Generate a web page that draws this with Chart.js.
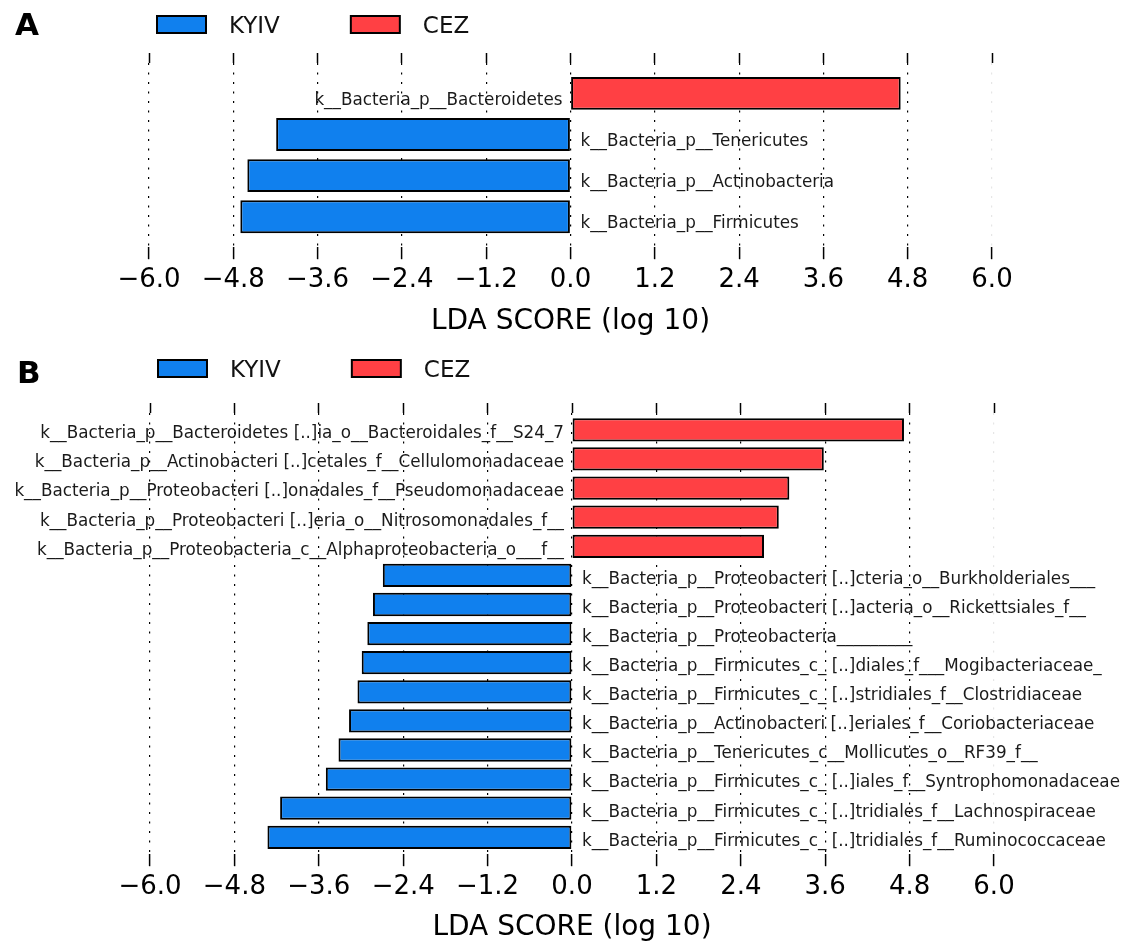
<!DOCTYPE html>
<html>
<head>
<meta charset="utf-8">
<title>LDA scores KYIV vs CEZ</title>
<script src="https://cdn.jsdelivr.net/npm/chart.js@4.4.1/dist/chart.umd.min.js"></script>
<style>
  body { margin: 0; background: #fff; }
  #wrap { position: relative; width: 1122px; height: 945px; }
  canvas { position: absolute; left: 0; }
  #chartA { top: 0; }
  #chartB { top: 340px; }
</style>
</head>
<body>
<div id="wrap">
  <canvas id="chartA" width="1122" height="340"></canvas>
  <canvas id="chartB" width="1122" height="605"></canvas>
</div>
<script>
// groups and shared axis
const groupNames = ['KYIV', 'CEZ'];
const groupColors = ['#1080ee', '#ff4044'];
const xTicks = [-6.0, -4.8, -3.6, -2.4, -1.2, 0.0, 1.2, 2.4, 3.6, 4.8, 6.0];

// panel A - phylum level
const taxaA = [
  'k__Bacteria_p__Bacteroidetes',
  'k__Bacteria_p__Tenericutes',
  'k__Bacteria_p__Actinobacteria',
  'k__Bacteria_p__Firmicutes'
];
const groupA = ['CEZ', 'KYIV', 'KYIV', 'KYIV'];
const ldaA = [4.70, 4.19, 4.60, 4.70];

// panel B - lower ranks
const taxaB = [
  'k__Bacteria_p__Bacteroidetes [..]ia_o__Bacteroidales_f__S24_7',
  'k__Bacteria_p__Actinobacteri [..]cetales_f__Cellulomonadaceae',
  'k__Bacteria_p__Proteobacteri [..]onadales_f__Pseudomonadaceae',
  'k__Bacteria_p__Proteobacteri [..]eria_o__Nitrosomonadales_f__',
  'k__Bacteria_p__Proteobacteria_c__Alphaproteobacteria_o___f__',
  'k__Bacteria_p__Proteobacteri [..]cteria_o__Burkholderiales___',
  'k__Bacteria_p__Proteobacteri [..]acteria_o__Rickettsiales_f__',
  'k__Bacteria_p__Proteobacteria_________',
  'k__Bacteria_p__Firmicutes_c_ [..]diales_f___Mogibacteriaceae_',
  'k__Bacteria_p__Firmicutes_c_ [..]stridiales_f__Clostridiaceae',
  'k__Bacteria_p__Actinobacteri [..]eriales_f__Coriobacteriaceae',
  'k__Bacteria_p__Tenericutes_c__Mollicutes_o__RF39_f__',
  'k__Bacteria_p__Firmicutes_c_ [..]iales_f__Syntrophomonadaceae',
  'k__Bacteria_p__Firmicutes_c_ [..]tridiales_f__Lachnospiraceae',
  'k__Bacteria_p__Firmicutes_c_ [..]tridiales_f__Ruminococcaceae'
];
const groupB = ['CEZ', 'CEZ', 'CEZ', 'CEZ', 'CEZ',
  'KYIV', 'KYIV', 'KYIV', 'KYIV', 'KYIV', 'KYIV', 'KYIV', 'KYIV', 'KYIV', 'KYIV'];
const ldaB = [4.72, 3.58, 3.09, 2.94, 2.73,
  2.69, 2.83, 2.91, 2.99, 3.05, 3.17, 3.32, 3.50, 4.15, 4.33];

Chart.defaults.font.family = '"DejaVu Sans", sans-serif';
Chart.defaults.color = '#000';

// KYIV bars point left, CEZ bars point right
function buildDatasets(taxa, groups, lda) {
  return groupNames.map((g, k) => ({
    label: g,
    backgroundColor: groupColors[k],
    borderColor: '#000',
    borderWidth: 2,
    borderSkipped: false,
    data: taxa.map((t, i) => ({ x: g === 'KYIV' ? -lda[i] : lda[i], y: i, taxon: t }))
              .filter((p, i) => groups[i] === g)
  }));
}

function fmtTick(v) {
  return v.toFixed(1).replace('-', '\u2212');
}

// taxon names beside the zero line, panel letter and legend
const lefseDecor = {
  id: 'lefseDecor',
  afterDatasetsDraw(chart, args, opts) {
    const { ctx } = chart;
    const zero = chart.scales.x.getPixelForValue(0);
    ctx.save();
    ctx.font = opts.labelSize + 'px "DejaVu Sans"';
    ctx.fillStyle = '#1a1a1a';
    ctx.textBaseline = 'middle';
    chart.data.datasets.forEach((ds, d) => {
      chart.getDatasetMeta(d).data.forEach((bar, j) => {
        const raw = ds.data[j];
        const y = bar.y + opts.labelShift;
        if (raw.x < 0) {
          ctx.textAlign = 'left';
          ctx.fillText(raw.taxon, zero + 10, y);
        } else {
          ctx.textAlign = 'right';
          ctx.fillText(raw.taxon, zero - 8, y);
        }
      });
    });
    ctx.restore();
  },
  afterDraw(chart, args, opts) {
    const { ctx, chartArea } = chart;
    ctx.save();
    ctx.fillStyle = '#000';
    ctx.textAlign = 'left';
    ctx.textBaseline = 'alphabetic';
    ctx.font = 'bold 31px "DejaVu Sans"';
    ctx.fillText(opts.tag, opts.tagX, opts.tagY);

    ctx.font = '23px "DejaVu Sans"';
    let x = chartArea.left + 8;
    const top = opts.legendY;
    chart.data.datasets.forEach(ds => {
      ctx.fillStyle = ds.backgroundColor;
      ctx.fillRect(x, top, 49, 17);
      ctx.lineWidth = 2;
      ctx.strokeStyle = '#000';
      ctx.strokeRect(x, top, 49, 17);
      ctx.fillStyle = '#111';
      ctx.fillText(ds.label, x + 49 + 23, top + 17);
      x += 49 + 23 + ctx.measureText(ds.label).width + 71;
    });
    ctx.restore();
  }
};

function makeChart(id, taxa, groups, lda, cfg) {
  const gridColor = c => (c.tick && c.tick.value === 6 ? '#e6e6e6' : '#000');
  return new Chart(document.getElementById(id), {
    type: 'bar',
    data: { datasets: buildDatasets(taxa, groups, lda) },
    plugins: [lefseDecor],
    options: {
      indexAxis: 'y',
      responsive: false,
      animation: false,
      devicePixelRatio: 1,
      grouped: false,
      barPercentage: 0.8,
      categoryPercentage: 1.0,
      layout: { padding: cfg.padding },
      plugins: {
        legend: { display: false },
        tooltip: { enabled: false },
        lefseDecor: cfg.decor
      },
      scales: {
        y: {
          type: 'linear',
          display: false,
          offset: false,
          reverse: true,
          min: cfg.yMin,
          max: cfg.yMax,
          // one slot per taxon, so bar thickness follows the row spacing
          afterBuildTicks: s => { s.ticks = taxa.map((t, i) => ({ value: i })); }
        },
        x: {
          type: 'linear',
          position: 'bottom',
          min: -6,
          max: 6,
          z: 1,
          afterBuildTicks: s => { s.ticks = xTicks.map(v => ({ value: v })); },
          grid: {
            color: gridColor,
            lineWidth: 1.2,
            tickLength: 12,
            tickColor: '#000',
            tickWidth: 1.5,
            tickBorderDash: []
          },
          border: { display: false, dash: [2, 7.5] },
          ticks: {
            autoSkip: false,
            maxRotation: 0,
            padding: 5,
            color: '#000',
            font: { size: 26 },
            callback: v => fmtTick(v)
          },
          title: {
            display: true,
            text: 'LDA SCORE (log 10)',
            color: '#000',
            font: { size: 28 },
            padding: { top: cfg.titlePad, bottom: 0 }
          }
        },
        xTop: {
          type: 'linear',
          position: 'top',
          min: -6,
          max: 6,
          z: 1,
          afterBuildTicks: s => { s.ticks = xTicks.map(v => ({ value: v })); },
          grid: {
            drawOnChartArea: false,
            tickLength: 10,
            tickColor: '#000',
            tickWidth: 1.5
          },
          border: { display: false },
          ticks: { display: false }
        }
      }
    }
  });
}

makeChart('chartA', taxaA, groupA, ldaA, {
  padding: { left: 149, right: 130, top: 53, bottom: 1 },
  yMin: -0.74,
  yMax: 3.74,
  titlePad: 5,
  decor: { tag: 'A', tagX: 15, tagY: 35, legendY: 16, labelSize: 16.8, labelShift: 7 }
});

makeChart('chartB', taxaB, groupB, ldaB, {
  padding: { left: 150, right: 128, top: 63, bottom: 0 },
  yMin: -0.58,
  yMax: 14.58,
  titlePad: 4,
  decor: { tag: 'B', tagX: 17, tagY: 43, legendY: 20, labelSize: 16.8, labelShift: 4 }
});
</script>
</body>
</html>
